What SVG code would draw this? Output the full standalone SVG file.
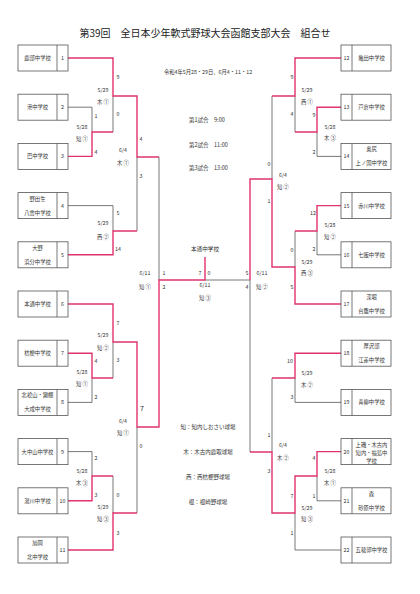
<svg xmlns="http://www.w3.org/2000/svg" width="420" height="594" viewBox="0 0 420 594">
<style>
text{font-family:"Noto Sans CJK JP","Noto Sans",sans-serif;fill:#333;}
.t{font-size:5.3px;text-anchor:middle;}
.s{font-size:5.3px;text-anchor:middle;}
.h{font-size:5.5px;}
.ttl{font-size:10px;text-anchor:middle;fill:#222;}
.bx{fill:#fff;stroke:#555;stroke-width:0.8;}
.dv{stroke:#555;stroke-width:0.8;}
.ln{fill:none;stroke:#555;stroke-width:0.8;}
.rd{fill:none;stroke:#e0336e;stroke-width:1.4;}
</style>
<rect width="420" height="594" fill="#fff"/>
<text class="ttl" x="205" y="37">第39回　全日本少年軟式野球大会函館支部大会　組合せ</text>
<text class="t" x="208" y="74">令和4年5月28・29日、6月4・11・12</text>
<text class="h" x="189" y="122">第1試合　9:00</text>
<text class="h" x="189" y="147">第2試合　11:00</text>
<text class="h" x="189" y="170">第3試合　13:00</text>
<text class="h" x="208" y="429" text-anchor="middle">知：知内しおさい球場</text>
<text class="h" x="208" y="454" text-anchor="middle">木：木古内鹿取球場</text>
<text class="h" x="208" y="479" text-anchor="middle">西：西桔梗野球場</text>
<text class="h" x="208" y="504" text-anchor="middle">根：根崎野球場</text>

<g id="connectors">
<path class="ln" d="M68,107.2 H92 V132 M68,402.4 H92 V378 M68,451.6 H92 V476 M68,205.6 H113 V231 M113,96 V132 M113,342 V378 M113,476 V513 M137,157 V231 M137,427 V513 M159,157 V280 M205,280 H250"/>
<path class="ln" d="M341,156.4 H317 V132 M295,96 V132 M341,254.8 H317 V231 M295,231 V267 M272,96 V179 M341,402.4 H295 V378 M341,500.8 H317 V476 M341,550 H295 V513 M272,378 V452 M250,280 V452"/>
<path class="rd" d="M68,58 H113 V96 H137 V157 H159"/>
<path class="rd" d="M68,156.4 H92 V132 H113"/>
<path class="rd" d="M68,254.8 H113 V231 H137"/>
<path class="rd" d="M68,304 H113 V342 H137 V427 H159 V280 H205 V257"/>
<path class="rd" d="M68,353.2 H92 V378 H113"/>
<path class="rd" d="M68,500.8 H92 V476 H113"/>
<path class="rd" d="M68,550 H113 V513 H137"/>
<path class="rd" d="M341,58 H295 V96 H272"/>
<path class="rd" d="M341,107.2 H317 V132 H295"/>
<path class="rd" d="M341,205.6 H317 V231 H295"/>
<path class="rd" d="M341,304 H295 V267 H272 V179 H250 V280"/>
<path class="rd" d="M341,353.2 H295 V378 H272"/>
<path class="rd" d="M341,451.6 H317 V476 H295 V513 H272 V452 H250"/>
</g>

<g id="labels" class="s">
<text x="103" y="92">5/29</text><text x="103" y="104">木 ①</text><text x="118" y="79">9</text><text x="118" y="116">0</text>
<text x="82" y="129">5/28</text><text x="82" y="141">知 ①</text><text x="96" y="118">1</text><text x="96" y="154">4</text>
<text x="123" y="152">6/4</text><text x="123" y="165">木 ①</text><text x="141" y="141">4</text><text x="141" y="178">3</text>
<text x="103" y="225">5/29</text><text x="103" y="239">西 ②</text><text x="118" y="215">5</text><text x="118" y="251">14</text>
<text x="145" y="275">6/11</text><text x="145" y="289">知 ①</text><text x="164" y="275">1</text><text x="164" y="289">2</text>
<text x="103" y="337">5/29</text><text x="103" y="350">知 ②</text><text x="118" y="325">7</text><text x="118" y="362">3</text>
<text x="82" y="374">5/28</text><text x="82" y="386">知 ①</text><text x="96" y="363">4</text><text x="96" y="399">2</text>
<text x="123" y="423">6/4</text><text x="123" y="435">知 ①</text><text x="142" y="411" style="font-size:7px">7</text><text x="141" y="448">0</text>
<text x="82" y="473">5/28</text><text x="82" y="485">木 ③</text><text x="96" y="460">2</text><text x="96" y="497">3</text>
<text x="103" y="509">5/29</text><text x="103" y="521">知 ③</text><text x="118" y="497">0</text><text x="118" y="535">3</text>
<text x="205" y="251" style="font-size:5.6px">本通中学校</text>
<text x="200" y="275">7</text><text x="209" y="275">0</text><text x="205" y="287">6/11</text><text x="205" y="300">知 ③</text>
<text x="247" y="275">5</text><text x="247" y="289">4</text><text x="262" y="275">6/11</text><text x="262" y="289">知 ②</text>
<text x="307" y="92">5/29</text><text x="307" y="104">西 ①</text><text x="292" y="79">9</text><text x="292" y="116">4</text>
<text x="330" y="129">5/28</text><text x="330" y="140">木 ③</text><text x="314" y="117">9</text><text x="314" y="154">2</text>
<text x="269" y="166">0</text><text x="283" y="177">6/4</text><text x="283" y="189">知 ②</text><text x="269" y="203">1</text>
<text x="330" y="227">5/28</text><text x="330" y="239">知 ②</text><text x="313" y="215">12</text><text x="314" y="251">2</text>
<text x="307" y="264">5/29</text><text x="307" y="275">西 ③</text><text x="292" y="252">0</text><text x="292" y="289">5</text>
<text x="307" y="375">5/29</text><text x="307" y="387">木 ②</text><text x="290" y="363">10</text><text x="292" y="399">3</text>
<text x="283" y="447">6/4</text><text x="283" y="460">木 ②</text><text x="269" y="437">1</text><text x="269" y="473">3</text>
<text x="330" y="473">5/28</text><text x="330" y="485">木 ①</text><text x="314" y="460">4</text><text x="314" y="498">1</text>
<text x="307" y="510">5/29</text><text x="307" y="521">知 ③</text><text x="292" y="498">7</text><text x="292" y="535">1</text>
</g>

<g id="team1"><rect class="bx" x="18" y="45" width="50" height="26"/><line class="dv" x1="57" y1="45" x2="57" y2="71"/><text class="t" x="37.5" y="60">鹿部中学校</text><text class="t" x="62.5" y="60">1</text></g>
<g id="team2"><rect class="bx" x="18" y="94.2" width="50" height="26"/><line class="dv" x1="57" y1="94.2" x2="57" y2="120.2"/><text class="t" x="37.5" y="109.2">港中学校</text><text class="t" x="62.5" y="109.2">2</text></g>
<g id="team3"><rect class="bx" x="18" y="143.4" width="50" height="26"/><line class="dv" x1="57" y1="143.4" x2="57" y2="169.4"/><text class="t" x="37.5" y="158.4">巴中学校</text><text class="t" x="62.5" y="158.4">3</text></g>
<g id="team4"><rect class="bx" x="18" y="192.6" width="50" height="26"/><line class="dv" x1="57" y1="192.6" x2="57" y2="218.6"/><text class="t" x="37.5" y="200.6">野田生</text><text class="t" x="37.5" y="214.6">八雲中学校</text><text class="t" x="62.5" y="207.6">4</text></g>
<g id="team5"><rect class="bx" x="18" y="241.8" width="50" height="26"/><line class="dv" x1="57" y1="241.8" x2="57" y2="267.8"/><text class="t" x="37.5" y="249.8">大野</text><text class="t" x="37.5" y="263.8">浜分中学校</text><text class="t" x="62.5" y="256.8">5</text></g>
<g id="team6"><rect class="bx" x="18" y="291" width="50" height="26"/><line class="dv" x1="57" y1="291" x2="57" y2="317"/><text class="t" x="37.5" y="306">本通中学校</text><text class="t" x="62.5" y="306">6</text></g>
<g id="team7"><rect class="bx" x="18" y="340.2" width="50" height="26"/><line class="dv" x1="57" y1="340.2" x2="57" y2="366.2"/><text class="t" x="37.5" y="355.2">桔梗中学校</text><text class="t" x="62.5" y="355.2">7</text></g>
<g id="team8"><rect class="bx" x="18" y="389.4" width="50" height="26"/><line class="dv" x1="57" y1="389.4" x2="57" y2="415.4"/><text class="t" x="37.5" y="397.4">北桧山・瀬棚</text><text class="t" x="37.5" y="411.4">大成中学校</text><text class="t" x="62.5" y="404.4">8</text></g>
<g id="team9"><rect class="bx" x="18" y="438.6" width="50" height="26"/><line class="dv" x1="57" y1="438.6" x2="57" y2="464.6"/><text class="t" x="37.5" y="453.6">大中山中学校</text><text class="t" x="62.5" y="453.6">9</text></g>
<g id="team10"><rect class="bx" x="18" y="487.8" width="50" height="26"/><line class="dv" x1="57" y1="487.8" x2="57" y2="513.8"/><text class="t" x="37.5" y="502.8">湯川中学校</text><text class="t" x="62.5" y="502.8">10</text></g>
<g id="team11"><rect class="bx" x="18" y="537" width="50" height="26"/><line class="dv" x1="57" y1="537" x2="57" y2="563"/><text class="t" x="37.5" y="545">旭岡</text><text class="t" x="37.5" y="559">北中学校</text><text class="t" x="62.5" y="552">11</text></g>

<g id="team12"><rect class="bx" x="341" y="45" width="50" height="26"/><line class="dv" x1="352" y1="45" x2="352" y2="71"/><text class="t" x="346.5" y="60">12</text><text class="t" x="371.5" y="60">亀田中学校</text></g>
<g id="team13"><rect class="bx" x="341" y="94.2" width="50" height="26"/><line class="dv" x1="352" y1="94.2" x2="352" y2="120.2"/><text class="t" x="346.5" y="109.2">13</text><text class="t" x="371.5" y="109.2">戸倉中学校</text></g>
<g id="team14"><rect class="bx" x="341" y="143.4" width="50" height="26"/><line class="dv" x1="352" y1="143.4" x2="352" y2="169.4"/><text class="t" x="346.5" y="158.4">14</text><text class="t" x="371.5" y="151.4">奥尻</text><text class="t" x="371.5" y="165.4">上ノ国中学校</text></g>
<g id="team15"><rect class="bx" x="341" y="192.6" width="50" height="26"/><line class="dv" x1="352" y1="192.6" x2="352" y2="218.6"/><text class="t" x="346.5" y="207.6">15</text><text class="t" x="371.5" y="207.6">赤川中学校</text></g>
<g id="team16"><rect class="bx" x="341" y="241.8" width="50" height="26"/><line class="dv" x1="352" y1="241.8" x2="352" y2="267.8"/><text class="t" x="346.5" y="256.8">16</text><text class="t" x="371.5" y="256.8">七飯中学校</text></g>
<g id="team17"><rect class="bx" x="341" y="291" width="50" height="26"/><line class="dv" x1="352" y1="291" x2="352" y2="317"/><text class="t" x="346.5" y="306">17</text><text class="t" x="371.5" y="299">深堀</text><text class="t" x="371.5" y="313">台鷹中学校</text></g>
<g id="team18"><rect class="bx" x="341" y="340.2" width="50" height="26"/><line class="dv" x1="352" y1="340.2" x2="352" y2="366.2"/><text class="t" x="346.5" y="355.2">18</text><text class="t" x="371.5" y="348.2">厚沢部</text><text class="t" x="371.5" y="362.2">江差中学校</text></g>
<g id="team19"><rect class="bx" x="341" y="389.4" width="50" height="26"/><line class="dv" x1="352" y1="389.4" x2="352" y2="415.4"/><text class="t" x="346.5" y="404.4">19</text><text class="t" x="371.5" y="404.4">青柳中学校</text></g>
<g id="team20"><rect class="bx" x="341" y="438.6" width="50" height="26"/><line class="dv" x1="352" y1="438.6" x2="352" y2="464.6"/><text class="t" x="346.5" y="453.6">20</text><text class="t" x="371.5" y="446.6">上磯・木古内</text><text class="t" x="371.5" y="454.6">知内・福島中</text><text class="t" x="371.5" y="462.6">学校</text></g>
<g id="team21"><rect class="bx" x="341" y="487.8" width="50" height="26"/><line class="dv" x1="352" y1="487.8" x2="352" y2="513.8"/><text class="t" x="346.5" y="502.8">21</text><text class="t" x="371.5" y="495.8">森</text><text class="t" x="371.5" y="509.8">砂原中学校</text></g>
<g id="team22"><rect class="bx" x="341" y="537" width="50" height="26"/><line class="dv" x1="352" y1="537" x2="352" y2="563"/><text class="t" x="346.5" y="552">22</text><text class="t" x="371.5" y="552">五稜郭中学校</text></g>
</svg>
